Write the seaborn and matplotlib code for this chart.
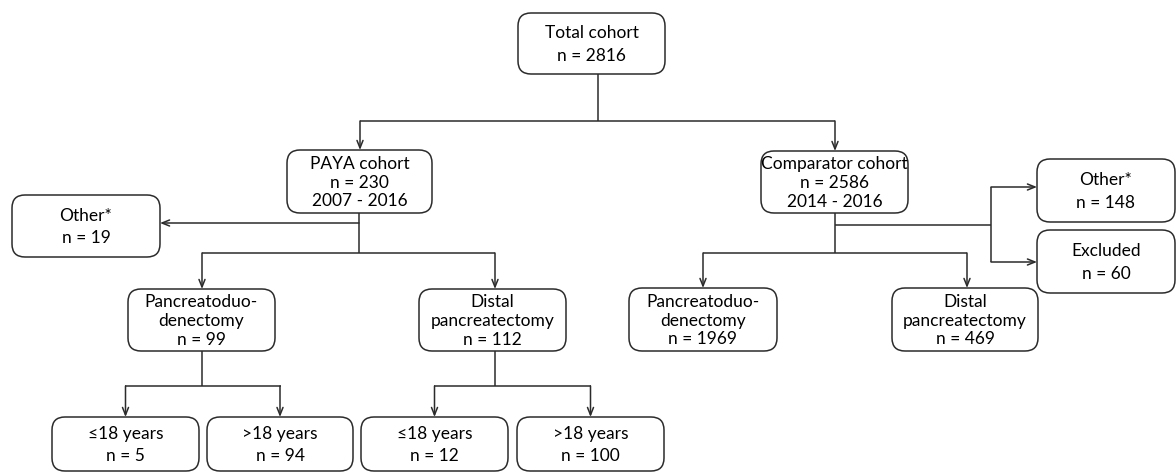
import matplotlib
matplotlib.use("Agg")
import matplotlib.pyplot as plt
import seaborn as sns
from matplotlib.patches import FancyBboxPatch

# Flowchart content
total_label = "Total cohort"
total_n = 2816
cohort_names = ["PAYA cohort", "Comparator cohort"]
cohort_n = [230, 2586]
cohort_years = ["2007 - 2016", "2014 - 2016"]
procedures = ["Pancreatoduo-\ndenectomy", "Distal\npancreatectomy"]
paya_proc_n = [99, 112]
comp_proc_n = [1969, 469]
age_groups = ["\u226418 years", ">18 years"]
paya_age_n = [5, 94, 12, 100]   # pancreatoduodenectomy (<=18, >18), distal (<=18, >18)
paya_other_n = 19
comp_other_n = 148
comp_excluded_n = 60

sns.set_theme(style="white")
plt.rcParams['font.family'] = ['Lato', 'DejaVu Sans']

LINE = "#2b2b2b"
fig = plt.figure(figsize=(11.76, 4.73), dpi=100)
ax = fig.add_axes([0, 0, 1, 1])
ax.set_xlim(0, 1176)
ax.set_ylim(473, 0)
ax.axis("off")


def box(x0, x1, y0, y1, text):
    p = FancyBboxPatch((x0, y0), x1 - x0, y1 - y0,
                       boxstyle="round,pad=0,rounding_size=13",
                       fc="white", ec=LINE, lw=1.1, zorder=2)
    ax.add_patch(p)
    n_lines = text.count("\n") + 1
    ax.text((x0 + x1) / 2, (y0 + y1) / 2 + 1, text, ha="center", va="center",
            fontsize=12.5, linespacing=1.2 if n_lines == 3 else 1.5,
            color="black", zorder=3)


def line(xs, ys):
    ax.plot(xs, ys, color=LINE, lw=1.1, solid_capstyle="butt", zorder=1)


def arrow(x0, y0, x1, y1):
    ax.annotate("", xy=(x1, y1), xytext=(x0, y0),
                arrowprops=dict(arrowstyle="->,head_length=0.45,head_width=0.18",
                                color=LINE, lw=1.1, shrinkA=0, shrinkB=0),
                zorder=1)


# top
box(518, 665, 13, 74, f"{total_label}\nn = {total_n}")
line([598, 598], [74, 121])
line([360, 835], [121, 121])
arrow(360, 121, 360, 150)
arrow(835, 121, 835, 151)

# cohorts
box(287, 432, 150, 213, f"{cohort_names[0]}\nn = {cohort_n[0]}\n{cohort_years[0]}")
box(761, 908, 151, 213, f"{cohort_names[1]}\nn = {cohort_n[1]}\n{cohort_years[1]}")

# PAYA branch
line([359, 359], [213, 253])
arrow(359, 223, 160, 223)
box(12, 160, 195, 257, f"Other*\nn = {paya_other_n}")
line([202, 495], [253, 253])
arrow(202, 253, 202, 289)
arrow(495, 253, 495, 289)
box(128, 275, 289, 351, f"{procedures[0]}\nn = {paya_proc_n[0]}")
box(419, 566, 289, 351, f"{procedures[1]}\nn = {paya_proc_n[1]}")

# age split
bottom_x = [(52, 199), (207, 353), (361, 508), (517, 664)]
for parent_x, kids in [(202, (0, 1)), (495, (2, 3))]:
    line([parent_x, parent_x], [351, 386])
    cx = [(bottom_x[k][0] + bottom_x[k][1]) / 2 for k in kids]
    line([cx[0] - 0.5, cx[1] + 0.5], [386, 386])
    for k, c in zip(kids, cx):
        arrow(c, 386, c, 417)
        box(bottom_x[k][0], bottom_x[k][1], 417, 471,
            f"{age_groups[k % 2]}\nn = {paya_age_n[k]}")

# comparator branch
line([835, 835], [213, 253])
line([835, 991], [225, 225])
line([991, 991], [187, 262])
arrow(991, 187, 1037, 187)
arrow(991, 262, 1037, 262)
box(1037, 1175, 159, 222, f"Other*\nn = {comp_other_n}")
box(1037, 1175, 230, 293, f"Excluded\nn = {comp_excluded_n}")
line([703, 967], [253, 253])
arrow(703, 253, 703, 288)
arrow(967, 253, 967, 288)
box(629, 777, 288, 351, f"{procedures[0]}\nn = {comp_proc_n[0]}")
box(892, 1038, 288, 351, f"{procedures[1]}\nn = {comp_proc_n[1]}")

fig.savefig("out.png", dpi=100, facecolor="white")
